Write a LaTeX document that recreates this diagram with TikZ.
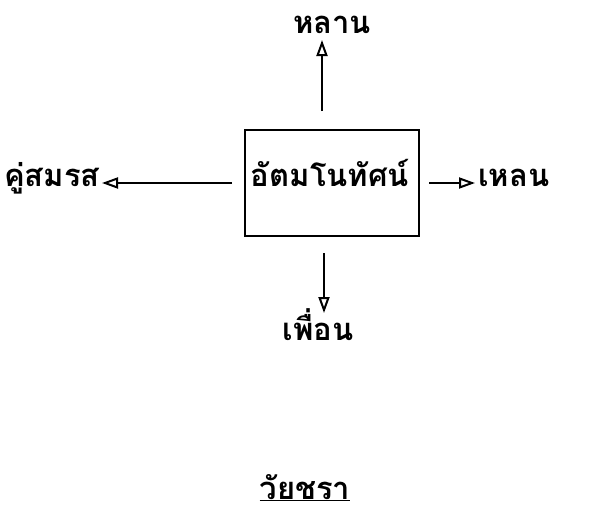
\documentclass[tikz,border=0pt]{standalone}
\usepackage{fontspec}
\newfontfamily\thaifont[Script=Thai]{Loma}
\usepackage{tikz}
\usetikzlibrary{arrows.meta}
\tikzset{
rectnodev1/.style={rectangle, draw=black!100,fill=none,line width=2pt, inner sep=0pt, minimum width= 174pt, minimum height = 106pt},
labelnodev1/.style={inner sep=0pt, font=\thaifont\bfseries\fontsize{31}{36}\selectfont},
arrowv1/.style={line width=2.2pt, black, -{Triangle[open, length=16pt, width=11pt, line width=2pt]}},
}
\begin{document}
\begin{tikzpicture}[x=1pt,y=-1pt]
    \useasboundingbox (0,0) rectangle (605,515);
    \node[rectnodev1] at (332,183) (self) {};
    \node[labelnodev1, anchor=base] at (330,186) (selfname) {อัตมโนทัศน์};
    \node[labelnodev1, anchor=base] at (332,33) (grandchild) {หลาน};
    \node[labelnodev1, anchor=base east] at (100,186) (spouse) {คู่สมรส};
    \node[labelnodev1, anchor=base west] at (478,186) (greatgrand) {เหลน};
    \node[labelnodev1, anchor=base] at (318,340) (friend) {เพื่อน};
    \node[labelnodev1, anchor=base] at (305,499) (agetitle) {\underline{วัยชรา}};
    % arrows out of the box
    \draw[arrowv1, shorten <=18pt, shorten >=7pt] ([xshift=-10pt]self.north) -- ([xshift=-10pt]self.north |- grandchild.base);
    \draw[arrowv1, shorten <=12pt, shorten >=2pt] (self.west) -- (spouse.east |- self.west);
    \draw[arrowv1, shorten <=9pt, shorten >=3pt] (self.east) -- (greatgrand.west |- self.east);
    \draw[arrowv1, shorten <=16pt, shorten >=27pt] ([xshift=-8pt]self.south) -- ([xshift=-8pt]self.south |- friend.base);
\end{tikzpicture}
\end{document}
